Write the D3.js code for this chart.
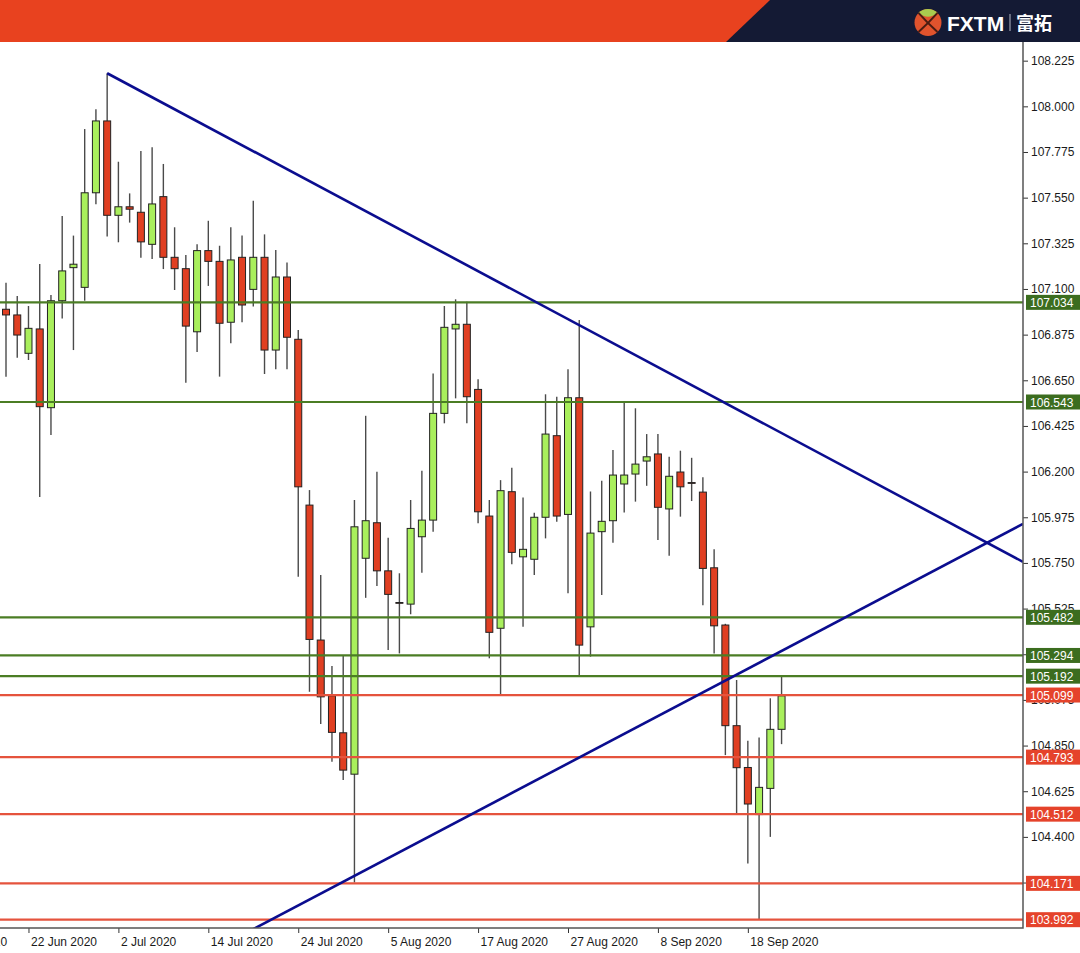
<!DOCTYPE html>
<html>
<head>
<meta charset="utf-8">
<script src="https://cdn.jsdelivr.net/npm/d3@7"></script>
<style>
  html, body { margin: 0; padding: 0; background: #ffffff; }
  svg { display: block; }
</style>
</head>
<body>
<svg id="chart" width="1080" height="953"></svg>
<script>
// USD/JPY daily candles, 18 Jun 2020 – 23 Sep 2020 (one bar per weekday)
const firstSession = "2020-06-18";
const lastSession = "2020-09-23";

const opens = [
  107.000, 106.972, 106.783, 106.903, 106.515, 107.042, 107.205, 107.108, 107.574, 107.928,
  107.463, 107.505, 107.478, 107.320, 107.555, 107.256, 107.200, 106.889, 107.289, 107.236,
  106.936, 107.256, 107.098, 107.256, 106.799, 107.159, 106.852, 106.035, 105.370, 105.095,
  104.913, 104.709, 105.773, 105.948, 105.711, 105.555, 105.547, 105.879, 105.961, 106.487,
  106.903, 106.926, 106.605, 105.981, 105.428, 106.101, 105.780, 105.768, 105.975, 106.377,
  105.989, 106.564, 105.435, 105.904, 105.958, 106.139, 106.188, 106.252, 106.287, 106.016,
  106.198, 106.146, 106.099, 105.726, 105.444, 104.948, 104.742, 104.510, 104.639, 104.930
];
const highs = [
  107.131, 107.065, 107.016, 107.223, 107.070, 107.460, 107.363, 107.888, 107.985, 108.163,
  107.727, 107.571, 107.780, 107.798, 107.716, 107.404, 107.267, 107.320, 107.436, 107.313,
  107.404, 107.363, 107.535, 107.369, 107.292, 107.231, 106.898, 106.109, 105.690, 105.242,
  105.296, 106.060, 106.475, 106.199, 105.874, 105.699, 106.060, 106.204, 106.684, 107.016,
  107.049, 107.037, 106.655, 106.060, 106.158, 106.219, 106.073, 105.997, 106.581, 106.569,
  106.704, 106.947, 106.102, 106.155, 106.306, 106.539, 106.512, 106.385, 106.385, 106.273,
  106.303, 106.268, 106.172, 105.817, 105.450, 105.173, 104.874, 104.890, 105.083, 105.192
];
const lows = [
  106.668, 106.761, 106.750, 106.075, 106.380, 106.955, 106.799, 107.042, 107.517, 107.358,
  107.330, 107.427, 107.254, 107.248, 107.198, 107.095, 106.638, 106.789, 107.115, 106.668,
  106.832, 106.936, 107.013, 106.681, 106.704, 106.704, 105.682, 105.115, 104.956, 104.770,
  104.680, 104.175, 105.578, 105.636, 105.321, 105.304, 105.497, 105.702, 105.904, 106.438,
  106.561, 106.438, 105.945, 105.280, 105.100, 105.744, 105.435, 105.690, 105.871, 105.953,
  105.600, 105.195, 105.288, 105.592, 105.849, 105.999, 106.052, 106.130, 105.863, 105.785,
  105.978, 106.055, 105.542, 105.304, 104.803, 104.515, 104.269, 103.992, 104.400, 104.857
];
const closes = [
  106.972, 106.873, 106.906, 106.520, 107.042, 107.189, 107.222, 107.574, 107.928, 107.463,
  107.505, 107.493, 107.332, 107.519, 107.256, 107.200, 106.917, 107.289, 107.236, 106.931,
  107.243, 107.021, 107.256, 106.799, 107.159, 106.862, 106.125, 105.373, 105.090, 104.915,
  104.729, 105.928, 105.958, 105.711, 105.595, 105.554, 105.920, 105.961, 106.487, 106.911,
  106.926, 106.569, 106.002, 105.408, 106.106, 105.802, 105.817, 105.975, 106.385, 105.981,
  106.564, 105.345, 105.897, 105.955, 106.183, 106.183, 106.237, 106.273, 106.024, 106.177,
  106.125, 106.145, 105.723, 105.440, 104.948, 104.741, 104.562, 104.644, 104.930, 105.095
];

// Horizontal levels
const upperLevels = [107.034, 106.543, 105.482, 105.294, 105.192];
const lowerLevels = [105.099, 104.793, 104.512, 104.171, 103.992];

// Trend lines as [bar index, price] anchor pairs
const downTrend = [[9, 108.163], [69, 106.390]];
const upTrend = [[31, 104.208], [69, 105.316]];

// Axis ticks
const priceTicks = [108.225, 108.000, 107.775, 107.550, 107.325, 107.100, 106.875, 106.650,
  106.425, 106.200, 105.975, 105.750, 105.525, 105.300, 105.075, 104.850, 104.625, 104.400, 104.175];
const dateTicks = ["2020-06-10", "2020-06-22", "2020-07-02", "2020-07-14", "2020-07-24",
  "2020-08-05", "2020-08-17", "2020-08-27", "2020-09-08", "2020-09-18"];

// ---------------------------------------------------------------------------
const parse = d3.timeParse("%Y-%m-%d");
const fmtDate = d3.timeFormat("%-d %b %Y");
const isWeekday = d => d.getDay() !== 0 && d.getDay() !== 6;
const start = parse(firstSession);
const sessions = d3.timeDay.range(start, d3.timeDay.offset(parse(lastSession), 1)).filter(isWeekday);

// trading-day offset of any date relative to the first session
function barIndex(date) {
  if (date >= start) return d3.timeDay.range(start, date).filter(isWeekday).length;
  return -d3.timeDay.range(date, start).filter(isWeekday).length;
}

const bars = sessions.map((d, i) => ({
  i, date: d, open: opens[i], high: highs[i], low: lows[i], close: closes[i]
}));

const plot = { left: 0, right: 1023, top: 42, bottom: 928 };

const x = d3.scaleLinear().domain([-0.534, 90.48]).range([plot.left, plot.right]);
const y = d3.scaleLinear().domain([103.951, 108.317]).range([plot.bottom, plot.top]);

const svg = d3.select("#chart");
const FONT = "'Liberation Sans', Arial, sans-serif";

svg.append("defs").append("clipPath").attr("id", "plotClip")
  .append("rect")
  .attr("x", plot.left).attr("y", plot.top)
  .attr("width", plot.right - plot.left).attr("height", plot.bottom - plot.top);

const area = svg.append("g").attr("clip-path", "url(#plotClip)");

// Candles
const BODY = 7;
const candle = area.append("g").selectAll("g").data(bars).join("g");
candle.append("line")
  .attr("x1", d => x(d.i)).attr("x2", d => x(d.i))
  .attr("y1", d => y(d.high)).attr("y2", d => y(d.low))
  .attr("stroke", "#4a4a4a").attr("stroke-width", 1.4);
candle.append("rect")
  .attr("x", d => x(d.i) - BODY / 2)
  .attr("y", d => y(Math.max(d.open, d.close)))
  .attr("width", BODY)
  .attr("height", d => Math.max(0.8, Math.abs(y(d.open) - y(d.close))))
  .attr("fill", d => d.close > d.open ? "#a9ef5c" : d.close < d.open ? "#e03f22" : "#222")
  .attr("stroke", "#222").attr("stroke-width", 1);

// Horizontal levels
const levelG = area.append("g");
levelG.selectAll("line.up").data(upperLevels).join("line")
  .attr("class", "up")
  .attr("x1", plot.left).attr("x2", plot.right)
  .attr("y1", d => y(d)).attr("y2", d => y(d))
  .attr("stroke", "#4b7d24").attr("stroke-width", 2.2);
levelG.selectAll("line.down").data(lowerLevels).join("line")
  .attr("class", "down")
  .attr("x1", plot.left).attr("x2", plot.right)
  .attr("y1", d => y(d)).attr("y2", d => y(d))
  .attr("stroke", "#e5533d").attr("stroke-width", 2.2);

// Trend lines, extended as straight lines through their anchors
function extendLine(pts, fromStart) {
  const [[i0, p0], [i1, p1]] = pts;
  const slope = (p1 - p0) / (i1 - i0);
  const [d0, d1] = x.domain();
  const a = fromStart ? i0 : d0;
  return [[a, p0 + slope * (a - i0)], [d1, p0 + slope * (d1 - i0)]];
}
const trendPath = d3.line().x(d => x(d[0])).y(d => y(d[1]));
area.append("path").datum(extendLine(downTrend, true))
  .attr("d", trendPath).attr("fill", "none")
  .attr("stroke", "#0b0d8f").attr("stroke-width", 2.6);
area.append("path").datum(extendLine(upTrend, false))
  .attr("d", trendPath).attr("fill", "none")
  .attr("stroke", "#0b0d8f").attr("stroke-width", 2.6);

// Price axis
const yAxis = svg.append("g")
  .attr("transform", `translate(${plot.right},0)`)
  .call(d3.axisRight(y).tickValues(priceTicks).tickFormat(d3.format(".3f"))
    .tickSize(5).tickPadding(3).tickSizeOuter(0));
yAxis.select(".domain").remove();
yAxis.selectAll("line").attr("stroke", "#333");
yAxis.selectAll("text").attr("font-family", FONT).attr("font-size", 12).attr("fill", "#1a1a1a");

// Date axis
const tickIdx = dateTicks.map(s => barIndex(parse(s)));
const xAxis = svg.append("g")
  .attr("transform", `translate(0,${plot.bottom})`)
  .call(d3.axisBottom(x).tickValues(tickIdx)
    .tickFormat((d, k) => fmtDate(parse(dateTicks[k])))
    .tickSize(5).tickSizeOuter(0));
xAxis.select(".domain").remove();
xAxis.selectAll("line").attr("stroke", "#333");
xAxis.selectAll("text")
  .attr("text-anchor", "start").attr("x", 2).attr("y", 9)
  .attr("font-family", FONT).attr("font-size", 12).attr("fill", "#1a1a1a");

// Frame
svg.append("path")
  .attr("d", `M${plot.left},${plot.bottom}H${plot.right}V${plot.top}`)
  .attr("fill", "none").attr("stroke", "#555").attr("stroke-width", 1.5);

// Level value tags on the price axis
function tags(levels, fill) {
  const g = svg.append("g");
  const t = g.selectAll("g").data(levels).join("g")
    .attr("transform", d => `translate(1026,${y(d)})`);
  t.append("rect").attr("x", 0).attr("y", -7.5).attr("width", 54).attr("height", 15).attr("fill", fill);
  t.append("text").attr("x", 4).attr("y", 4.5)
    .attr("font-family", FONT).attr("font-size", 12).attr("fill", "#ffffff")
    .text(d => d3.format(".3f")(d));
}
tags(upperLevels, "#3c6d1f");
tags(lowerLevels, "#e5432b");

// Brand banner
const banner = svg.append("g");
banner.append("rect").attr("x", 0).attr("y", 0).attr("width", 1080).attr("height", 42).attr("fill", "#e8421f");
banner.append("path").attr("d", "M770,0H1080V42H726Z").attr("fill", "#141a34");

const logo = banner.append("g").attr("transform", "translate(928,22.5)");
logo.append("circle").attr("r", 13.5).attr("fill", "#e0532d");
logo.append("path").attr("d", "M-9.5,-9.6 Q0,-2 9.5,-9.6 A13.5,13.5 0 0 0 -9.5,-9.6Z").attr("fill", "#a9cb4e");
logo.append("path").attr("d", "M-9.5,-9.6 Q-1,0 9.5,9.6 M9.5,-9.6 Q1,0 -9.5,9.6")
  .attr("fill", "none").attr("stroke", "#4a1c12").attr("stroke-width", 2);

banner.append("text").attr("x", 947).attr("y", 30.5)
  .attr("font-family", FONT).attr("font-weight", "bold").attr("font-size", 21)
  .attr("fill", "#ffffff").text("FXTM");
banner.append("line").attr("x1", 1010).attr("x2", 1010).attr("y1", 14).attr("y2", 31)
  .attr("stroke", "#b8bcc8").attr("stroke-width", 1);
banner.append("text").attr("x", 1016).attr("y", 30)
  .attr("font-family", "'Noto Sans CJK SC', sans-serif").attr("font-weight", "bold").attr("font-size", 18)
  .attr("fill", "#ffffff").text("富拓");
</script>
</body>
</html>
